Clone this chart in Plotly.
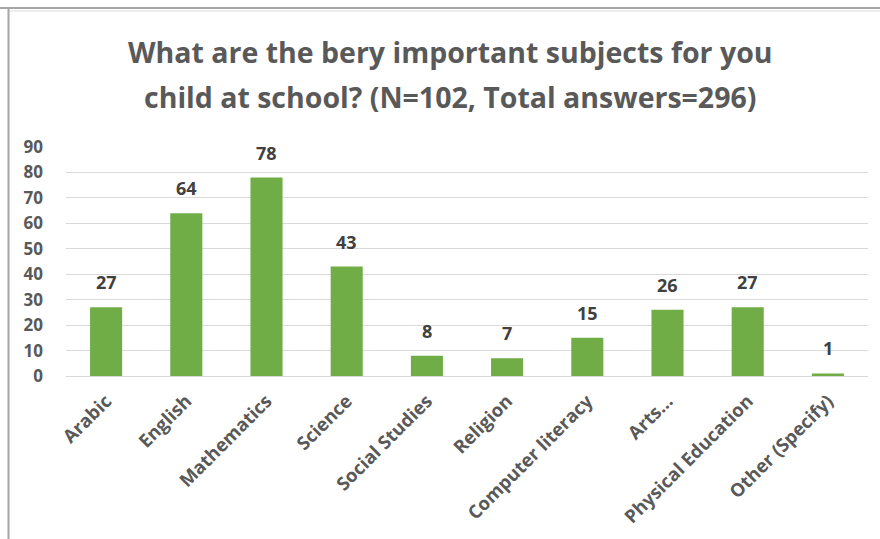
import plotly.graph_objects as go

subjects = ["Arabic", "English", "Mathematics", "Science", "Social Studies",
            "Religion", "Computer literacy", "Arts...", "Physical Education",
            "Other (Specify)"]
counts = [27, 64, 78, 43, 8, 7, 15, 26, 27, 1]
y_ticks = [0, 10, 20, 30, 40, 50, 60, 70, 80, 90]
title_lines = ["What are the bery important subjects for you",
               "child at school? (N=102, Total answers=296)"]

BAR_GREEN = "#70AD47"
TEXT_GRAY = "#595959"
LABEL_GRAY = "#404040"
FONT = "Open Sans, sans-serif"

PLOT_TOP, PLOT_H, PLOT_W, PLOT_L = 147, 229, 802, 66


def py(px):
    """Pixel row from the top of the page -> paper y coordinate."""
    return 1 + (PLOT_TOP - px) / PLOT_H


def px_x(px):
    """Pixel column from the left of the page -> paper x coordinate."""
    return (px - PLOT_L) / PLOT_W


fig = go.Figure()
fig.add_trace(go.Bar(
    x=subjects, y=counts,
    marker=dict(color=BAR_GREEN, line=dict(width=0)),
    width=0.4,
    hoverinfo="x+y",
))

# value labels above each bar
for s, v in zip(subjects, counts):
    fig.add_annotation(
        x=s, y=v, text=f"<b>{v}</b>", showarrow=False,
        yanchor="bottom", yshift=11,
        font=dict(family=FONT, size=18, color=LABEL_GRAY),
    )

# two-line title
for row, line in zip([52, 97], title_lines):
    fig.add_annotation(
        x=px_x(450), y=py(row), xref="paper", yref="paper",
        xanchor="center", yanchor="middle", showarrow=False,
        text=f"<b>{line}</b>",
        font=dict(family=FONT, size=28.5, color=TEXT_GRAY),
    )

fig.update_layout(
    width=880, height=539,
    margin=dict(l=PLOT_L, r=12, t=PLOT_TOP, b=163),
    paper_bgcolor="white", plot_bgcolor="white",
    showlegend=False,
    xaxis=dict(
        tickangle=-45,
        tickfont=dict(family=FONT, size=18.5, color=TEXT_GRAY, weight="bold"),
        showgrid=False, showline=True, linecolor="#D9D9D9", linewidth=1,
        ticks="", ticklen=0, ticklabelstandoff=6,
    ),
    yaxis=dict(
        range=[0, 90], tickvals=y_ticks,
        tickfont=dict(family=FONT, size=17, color=TEXT_GRAY, weight="bold"),
        showgrid=True, gridcolor="#D9D9D9", gridwidth=1,
        zeroline=False, showline=False, ticks="", ticklabelstandoff=22,
    ),
)

# chart frame: top and left edges
fig.add_shape(type="line", xref="paper", yref="paper",
              x0=px_x(0), x1=px_x(880), y0=py(8), y1=py(8),
              line=dict(color="#A6A6A6", width=2))
fig.add_shape(type="line", xref="paper", yref="paper",
              x0=px_x(9), x1=px_x(880), y0=py(11), y1=py(11),
              line=dict(color="#E6E6E6", width=1.5))
fig.add_shape(type="line", xref="paper", yref="paper",
              x0=px_x(8.5), x1=px_x(8.5), y0=py(539), y1=py(7),
              line=dict(color="#A6A6A6", width=2))

fig.write_html("out.html")
